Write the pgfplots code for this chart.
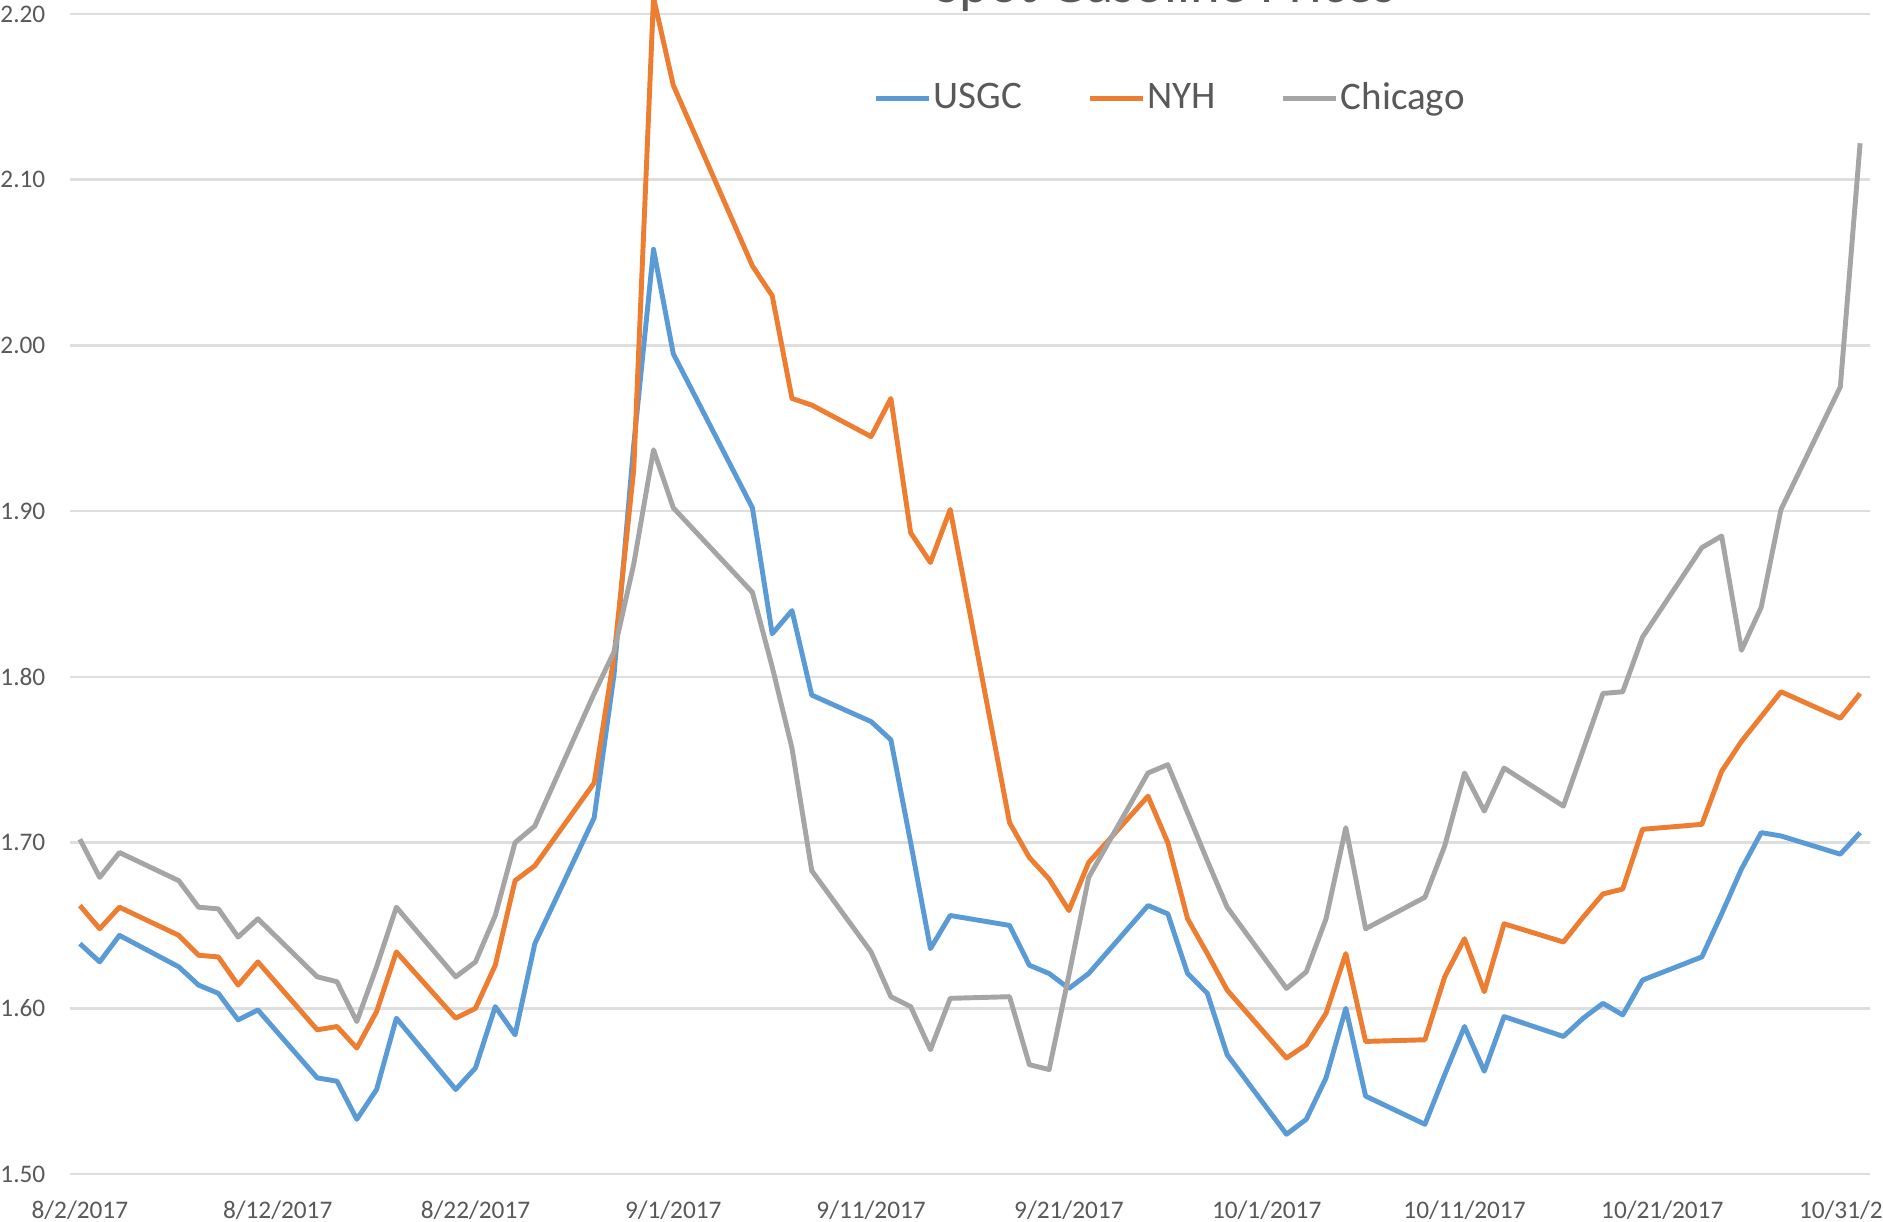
\documentclass[border=0pt]{standalone}
\usepackage{pgfplots}
\pgfplotsset{compat=1.18}
\usepackage{pgfplotstable}
\usepackage{fontspec}
\setmainfont{Carlito}
\definecolor{usgc}{HTML}{5B9BD5}
\definecolor{nyh}{HTML}{ED7D31}
\definecolor{chi}{HTML}{A5A5A5}
\definecolor{tickgray}{HTML}{595959}
\definecolor{gridgray}{HTML}{DEDEDE}

% day offset from 8/2/2017
\pgfplotstableread{
d USGC NYH Chicago
0 1.639 1.662 1.702
1 1.628 1.648 1.679
2 1.644 1.661 1.694
5 1.625 1.644 1.677
6 1.614 1.632 1.661
7 1.609 1.631 1.660
8 1.593 1.614 1.643
9 1.599 1.628 1.654
12 1.558 1.587 1.619
13 1.556 1.589 1.616
14 1.533 1.576 1.592
15 1.551 1.598 1.625
16 1.594 1.634 1.661
19 1.551 1.594 1.619
20 1.564 1.600 1.628
21 1.601 1.626 1.656
22 1.584 1.677 1.700
23 1.639 1.686 1.710
26 1.715 1.736 1.790
27 1.801 1.812 1.815
28 1.940 1.925 1.868
29 2.058 2.210 1.937
30 1.995 2.157 1.902
34 1.902 2.048 1.851
35 1.826 2.030 1.806
36 1.840 1.968 1.757
37 1.789 1.964 1.683
40 1.773 1.945 1.634
41 1.762 1.968 1.607
42 1.700 1.887 1.601
43 1.636 1.869 1.575
44 1.656 1.901 1.606
47 1.650 1.712 1.607
48 1.626 1.691 1.566
49 1.621 1.678 1.563
50 1.612 1.659 1.620
51 1.621 1.688 1.679
54 1.662 1.728 1.742
55 1.657 1.700 1.747
56 1.621 1.654 1.718
57 1.609 1.633 1.689
58 1.572 1.611 1.661
61 1.524 1.570 1.612
62 1.533 1.578 1.622
63 1.558 1.597 1.654
64 1.600 1.633 1.709
65 1.547 1.580 1.648
68 1.530 1.581 1.667
69 1.560 1.619 1.698
70 1.589 1.642 1.742
71 1.562 1.610 1.719
72 1.595 1.651 1.745
75 1.583 1.640 1.722
76 1.594 1.655 1.756
77 1.603 1.669 1.790
78 1.596 1.672 1.791
79 1.617 1.708 1.824
82 1.631 1.711 1.878
83 1.657 1.743 1.885
84 1.684 1.761 1.816
85 1.706 1.776 1.842
86 1.704 1.791 1.901
89 1.693 1.775 1.975
90 1.706 1.790 2.122
}\prices

\begin{document}
\begin{tikzpicture}
\begin{axis}[
  at={(0,0)}, anchor=south west,
  scale only axis,
  width=180mm, height=116mm,
  xmin=-0.5, xmax=90.5,
  ymin=1.5, ymax=2.2,
  clip=false,
  axis line style={draw=none},
  major tick length=0pt,
  xtick={0,10,20,30,40,50,60,70,80,90},
  xticklabels={8/2/2017,8/12/2017,8/22/2017,9/1/2017,9/11/2017,9/21/2017,10/1/2017,10/11/2017,10/21/2017,10/31/2017},
  ytick={1.5,1.6,1.7,1.8,1.9,2.0,2.1,2.2},
  /pgf/number format/fixed,
  /pgf/number format/fixed zerofill,
  /pgf/number format/precision=2,
  /pgf/number format/assume math mode=true,
  ymajorgrids,
  grid style={gridgray, line width=0.7pt},
  tick label style={font=\fontsize{7.2}{8.6}\selectfont, text=tickgray, inner sep=0pt},
  xticklabel style={anchor=north, yshift=-2.6mm},
  yticklabel style={anchor=east, xshift=-2.4mm},
  legend columns=3,
  legend image code/.code={\draw[#1] (0mm,0mm) -- (5.3mm,0mm);},
  legend style={at={(0.4461,0.9272)}, anchor=west, draw=none, fill=none,
    inner sep=0pt, font=\fontsize{11.1}{12.5}\selectfont, text=tickgray,
    nodes={inner sep=0.6pt},
    /tikz/every even column/.append style={column sep=6.3mm}},
]
\addplot[usgc, line width=1.4pt, line join=round] table[x=d, y=USGC] {\prices};
\addlegendentry{USGC}
\addplot[nyh, line width=1.4pt, line join=round] table[x=d, y=NYH] {\prices};
\addlegendentry{NYH}
\addplot[chi, line width=1.4pt, line join=round] table[x=d, y=Chicago] {\prices};
\addlegendentry{Chicago}
\end{axis}
\node[anchor=base, font=\fontsize{16}{19}\selectfont, text=tickgray] at (109.5mm,117.1mm) {Spot Gasoline Prices};
\pgfresetboundingbox
\useasboundingbox (-7mm,-4.7mm) rectangle (181.3mm,117.4mm);
\end{tikzpicture}
\end{document}
